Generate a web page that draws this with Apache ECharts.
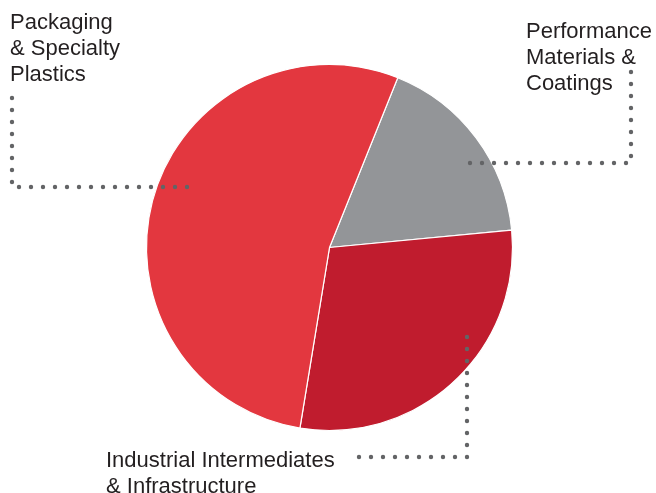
<!DOCTYPE html>
<html>
<head>
<meta charset="utf-8">
<script src="https://cdn.jsdelivr.net/npm/echarts@6/dist/echarts.min.js"></script>
<style>
html,body{margin:0;padding:0;background:#fff;}
#chart{width:656px;height:493px;}
</style>
</head>
<body>
<div id="chart"></div>
<script>
const categories = ['Performance Materials & Coatings', 'Industrial Intermediates & Infrastructure', 'Packaging & Specialty Plastics'];
const values = [17.4, 29.1, 53.5];
const colors = ['#939598', '#c01c2e', '#e3373f'];
const labelLines = [
  ['Performance', 'Materials &', 'Coatings'],
  ['Industrial Intermediates', '& Infrastructure'],
  ['Packaging', '& Specialty', 'Plastics']
];

const chart = echarts.init(document.getElementById('chart'), null, {renderer: 'canvas'});
const FONT = '22px "Liberation Sans", Arial, sans-serif';
const TXT = '#231f20';
const DOT = '#636466';

function textLines(lines, x, baseline0, lh) {
  return lines.map((t, i) => ({
    type: 'text', z: 10,
    style: {text: t, x: x, y: baseline0 - 7 + i * lh, font: FONT, fill: TXT, verticalAlign: 'middle', align: 'left'}
  }));
}
function dotted(points) {
  return {
    type: 'polyline', z: 10,
    shape: {points: points},
    style: {stroke: DOT, lineWidth: 4.4, lineDash: [0, 12], lineCap: 'round', fill: null}
  };
}

const graphics = [].concat(
  textLines(labelLines[2], 10, 29.5, 26.2),
  textLines(labelLines[0], 526, 39, 26),
  textLines(labelLines[1], 106, 467.5, 26.2),
  [
    dotted([[12, 98], [12, 187], [188, 187]]),
    dotted([[631, 72], [631, 163], [465, 163]]),
    dotted([[467, 337], [467, 457], [351, 457]])
  ]
);

chart.setOption({
  animation: false,
  backgroundColor: '#fff',
  series: [{
    type: 'pie',
    center: [329.5, 247.5],
    radius: [0, 183],
    startAngle: 68.1,
    clockwise: true,
    label: {show: false},
    labelLine: {show: false},
    emphasis: {disabled: true},
    itemStyle: {borderColor: '#fff', borderWidth: 1.2},
    data: categories.map((c, i) => ({name: c, value: values[i], itemStyle: {color: colors[i]}}))
  }],
  graphic: graphics
});
</script>
</body>
</html>
